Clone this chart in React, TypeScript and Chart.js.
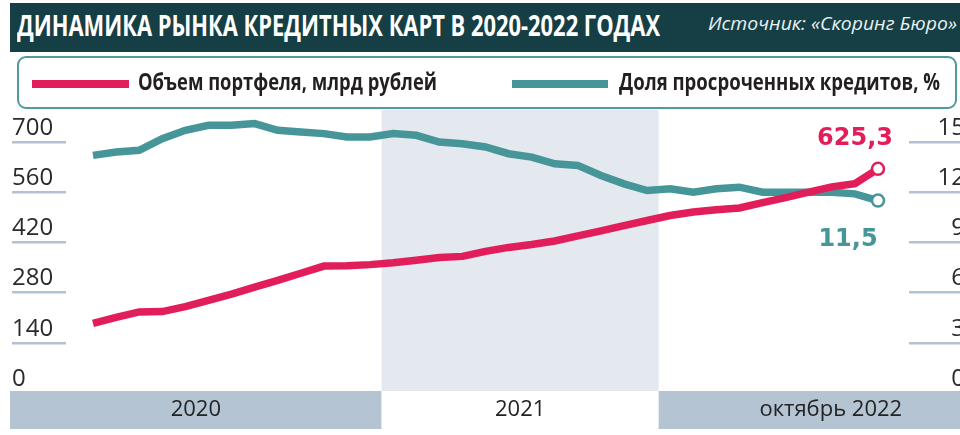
import React, { useEffect, useLayoutEffect, useRef } from 'react';
import { Chart, registerables } from 'chart.js';

Chart.register(...registerables);

// ---- data ----
const months = [
  'дек 2019',
  'янв 2020', 'фев 2020', 'мар 2020', 'апр 2020', 'май 2020', 'июн 2020',
  'июл 2020', 'авг 2020', 'сен 2020', 'окт 2020', 'ноя 2020', 'дек 2020',
  'янв 2021', 'фев 2021', 'мар 2021', 'апр 2021', 'май 2021', 'июн 2021',
  'июл 2021', 'авг 2021', 'сен 2021', 'окт 2021', 'ноя 2021', 'дек 2021',
  'янв 2022', 'фев 2022', 'мар 2022', 'апр 2022', 'май 2022', 'июн 2022',
  'июл 2022', 'авг 2022', 'сен 2022', 'окт 2022',
];
// Объем портфеля, млрд рублей
const portfolio = [
  194, 211, 226, 227, 241, 258, 276, 295, 314, 334,
  354, 355, 358, 363, 370, 378, 381, 395, 406, 414,
  424, 438, 452, 467, 481, 495, 505, 511, 516, 531,
  545, 560, 575, 584, 625.3,
];
// Доля просроченных кредитов, %
const overdue = [
  14.2, 14.4, 14.5, 15.2, 15.7, 16.0, 16.0, 16.1, 15.7, 15.6,
  15.5, 15.3, 15.3, 15.5, 15.4, 15.0, 14.9, 14.7, 14.3, 14.1,
  13.7, 13.6, 13.0, 12.5, 12.1, 12.2, 12.0, 12.2, 12.3, 12.0,
  12.0, 12.0, 12.0, 11.9, 11.5,
];
const leftTicks = [0, 140, 280, 420, 560, 700];
const rightTicks = [0, 3, 6, 9, 12, 15];
const yearLabels = ['2020', '2021', 'октябрь 2022'];
const yearFirstMonth = ['янв 2021', 'янв 2022'];

const TITLE = 'ДИНАМИКА РЫНКА КРЕДИТНЫХ КАРТ В 2020-2022 ГОДАХ';
const SOURCE = 'Источник: «Скоринг Бюро»';
const LEGEND_RED = 'Объем портфеля, млрд рублей';
const LEGEND_TEAL = 'Доля просроченных кредитов, %';

const RED = '#e21e5a';
const TEAL = '#469699';
const BAND = '#b5c4d2';
const COLUMN = '#e4e9f0';
const STUB = '#b3c2d2';

function FitText(props: { text: string; left: number; top: number; width: number; style: React.CSSProperties }) {
  const ref = useRef<HTMLSpanElement>(null);
  useLayoutEffect(() => {
    const fit = () => {
      const el = ref.current;
      if (!el) return;
      el.style.transform = 'none';
      const w = el.getBoundingClientRect().width;
      if (w > 0) el.style.transform = `scaleX(${props.width / w})`;
    };
    fit();
    if ((document as any).fonts) (document as any).fonts.ready.then(fit);
  }, [props.text, props.width]);
  return (
    <span
      ref={ref}
      style={{
        position: 'absolute',
        left: props.left,
        top: props.top,
        whiteSpace: 'nowrap',
        transformOrigin: 'left top',
        lineHeight: 1,
        ...props.style,
      }}
    >
      {props.text}
    </span>
  );
}

export default function App() {
  const canvasRef = useRef<HTMLCanvasElement>(null);

  useEffect(() => {
    document.body.style.margin = '0';
    document.body.style.overflow = 'hidden';
    const canvas = canvasRef.current;
    if (!canvas) return;
    const last = months.length - 1;
    const idx = months.map((_, i) => i);

    const decor = {
      id: 'decor',
      beforeDatasetsDraw(chart: any) {
        const { ctx, chartArea, scales } = chart;
        const xs = scales.x;
        const b1 = xs.getPixelForValue(months.indexOf(yearFirstMonth[0]) - 0.5);
        const b2 = xs.getPixelForValue(months.indexOf(yearFirstMonth[1]) - 0.5);
        const bandTop = chartArea.bottom - 2;
        const bandH = 38;
        ctx.save();
        // shaded 2021 column
        ctx.fillStyle = COLUMN;
        ctx.fillRect(b1, chartArea.top, b2 - b1, bandTop - chartArea.top);
        // year band
        const leftEdge = 10;
        const rightEdge = 1003;
        ctx.fillStyle = BAND;
        ctx.fillRect(leftEdge, bandTop, b1 - leftEdge, bandH);
        ctx.fillStyle = '#ffffff';
        ctx.fillRect(b1, bandTop, b2 - b1, bandH);
        ctx.fillStyle = BAND;
        ctx.fillRect(b2, bandTop, rightEdge - b2, bandH);
        ctx.fillStyle = '#232323';
        ctx.font = '22px "Open Sans"';
        ctx.textAlign = 'center';
        ctx.textBaseline = 'middle';
        const centers = [(leftEdge + b1) / 2, (b1 + b2) / 2, (b2 + rightEdge) / 2];
        yearLabels.forEach((t, i) => ctx.fillText(t, centers[i], bandTop + bandH / 2));
        ctx.restore();
      },
      afterDatasetsDraw(chart: any) {
        const { ctx } = chart;
        const pRed = chart.getDatasetMeta(0).data[last];
        const pTeal = chart.getDatasetMeta(1).data[last];
        ctx.save();
        ctx.font = 'bold 24px "DejaVu Sans"';
        ctx.textAlign = 'center';
        ctx.textBaseline = 'alphabetic';
        ctx.fillStyle = RED;
        ctx.fillText(portfolio[last].toFixed(1).replace('.', ','), pRed.x - 23, pRed.y - 24);
        ctx.fillStyle = TEAL;
        ctx.fillText(overdue[last].toFixed(1).replace('.', ','), pTeal.x - 30, pTeal.y + 45);
        ctx.restore();
      },
    };

    const tickFont = { family: 'Open Sans', size: 24 };
    const chart = new Chart(canvas, {
      type: 'line',
      data: {
        datasets: [
          {
            label: LEGEND_RED,
            data: idx.map((i) => ({ x: i, y: portfolio[i] })),
            yAxisID: 'y',
            borderColor: RED,
            borderWidth: 7.5,
            tension: 0,
            pointRadius: (c: any) => (c.dataIndex === last ? 6 : 0),
            pointBackgroundColor: '#ffffff',
            pointBorderColor: RED,
            pointBorderWidth: 2.5,
          },
          {
            label: LEGEND_TEAL,
            data: idx.map((i) => ({ x: i, y: overdue[i] })),
            yAxisID: 'yR',
            borderColor: TEAL,
            borderWidth: 7.5,
            tension: 0,
            pointRadius: (c: any) => (c.dataIndex === last ? 6 : 0),
            pointBackgroundColor: '#ffffff',
            pointBorderColor: TEAL,
            pointBorderWidth: 2.5,
          },
        ],
      },
      options: {
        animation: false,
        responsive: false,
        maintainAspectRatio: false,
        devicePixelRatio: 1,
        layout: { padding: { left: 12, right: 1, top: 110, bottom: 42 } },
        plugins: { legend: { display: false }, title: { display: false }, tooltip: { enabled: false } },
        events: [],
        scales: {
          x: {
            type: 'linear',
            display: false,
            min: -1.1694,
            max: 35.343,
          },
          y: {
            type: 'linear',
            position: 'left',
            min: 0,
            max: 789.24,
            afterBuildTicks: (s: any) => {
              s.ticks = leftTicks.map((v) => ({ value: v }));
            },
            afterFit: (s: any) => {
              s.width = 54;
            },
            border: { display: false },
            grid: { drawOnChartArea: false, drawTicks: true, tickLength: 54, color: STUB, lineWidth: 2.5 },
            ticks: {
              font: tickFont,
              color: '#2a2a2a',
              crossAlign: 'far',
              labelOffset: -14,
              autoSkip: false,
              callback: (v: any) => String(v),
            },
          },
          yR: {
            type: 'linear',
            position: 'right',
            min: 0,
            max: 16.912,
            afterBuildTicks: (s: any) => {
              s.ticks = rightTicks.map((v) => ({ value: v }));
            },
            afterFit: (s: any) => {
              s.width = 56;
            },
            border: { display: false },
            grid: { drawOnChartArea: false, drawTicks: true, tickLength: 56, color: STUB, lineWidth: 2.5 },
            ticks: {
              font: tickFont,
              color: '#2a2a2a',
              crossAlign: 'far',
              labelOffset: -14,
              autoSkip: false,
              callback: (v: any) => String(v),
            },
          },
        },
      } as any,
      plugins: [decor],
    });
    return () => chart.destroy();
  }, []);

  return (
    <div style={{ position: 'fixed', left: 0, top: 0, width: 960, height: 435, overflow: 'hidden', background: '#fff' }}>
      <canvas ref={canvasRef} width={966} height={435} style={{ position: 'absolute', left: 0, top: 0, width: 966, height: 435 }} />
      <div style={{ position: 'absolute', left: 10, top: 3, width: 950, height: 49, background: '#163f45' }} />
      <FitText
        text={TITLE}
        left={17}
        top={10}
        width={643}
        style={{ fontFamily: '"Open Sans", sans-serif', fontWeight: 700, fontSize: 29, color: '#ffffff' }}
      />
      <FitText
        text={SOURCE}
        left={708}
        top={14}
        width={249}
        style={{ fontFamily: '"Open Sans", sans-serif', fontStyle: 'italic', fontSize: 19, color: '#e9f1f1' }}
      />
      <div
        style={{
          position: 'absolute',
          left: 17,
          top: 56,
          width: 940,
          height: 53,
          boxSizing: 'border-box',
          border: '2px solid #4d9ca0',
          borderRadius: 9,
          background: '#fff',
        }}
      />
      <div style={{ position: 'absolute', left: 32, top: 80, width: 97, height: 8, background: RED }} />
      <FitText
        text={LEGEND_RED}
        left={138}
        top={70}
        width={299}
        style={{ fontFamily: '"Open Sans", sans-serif', fontWeight: 700, fontSize: 23, color: '#231f20' }}
      />
      <div style={{ position: 'absolute', left: 512, top: 80, width: 96, height: 8, background: TEAL }} />
      <FitText
        text={LEGEND_TEAL}
        left={619}
        top={70}
        width={321}
        style={{ fontFamily: '"Open Sans", sans-serif', fontWeight: 700, fontSize: 23, color: '#231f20' }}
      />
    </div>
  );
}
